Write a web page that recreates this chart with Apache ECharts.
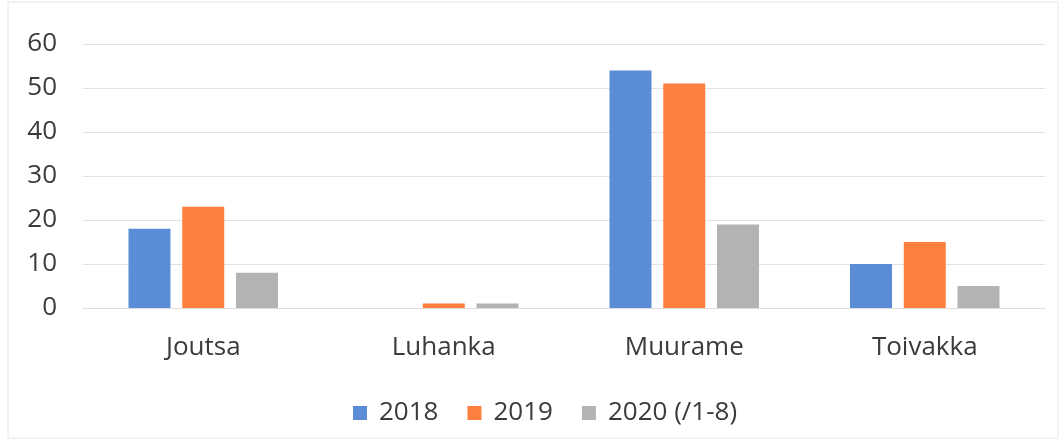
<!DOCTYPE html>
<html>
<head>
<meta charset="utf-8">
<script src="https://cdn.jsdelivr.net/npm/echarts@6/dist/echarts.min.js"></script>
<style>
  html, body { margin: 0; padding: 0; background: #ffffff; }
  #chart { width: 1063px; height: 442px; }
</style>
</head>
<body>
<div id="chart"></div>
<script>
// Municipalities and yearly counts
const categories = ['Joutsa', 'Luhanka', 'Muurame', 'Toivakka'];
const seriesNames = ['2018', '2019', '2020 (/1-8)'];
const values2018 = [18, 0, 54, 10];
const values2019 = [23, 1, 51, 15];
const values2020 = [8, 1, 19, 5];
const yTicks = [0, 10, 20, 30, 40, 50, 60];

const colors = ['#5b8dd6', '#fd7f3e', '#b5b2b2'];
const textColor = '#3b3b3b';
const fontFamily = '"Open Sans", sans-serif';

const chart = echarts.init(document.getElementById('chart'));
const seriesData = [values2018, values2019, values2020];

chart.setOption({
  animation: false,
  backgroundColor: '#ffffff',
  graphic: [{
    type: 'rect',
    shape: { x: 8, y: 2, width: 1050, height: 436 },
    style: { fill: 'none', stroke: '#e6e6e6', lineWidth: 1 },
    silent: true
  }],
  grid: { left: 83, right: 18, top: 44, bottom: 134 },
  legend: {
    data: seriesNames,
    top: 395,
    left: 348,
    itemWidth: 14,
    itemHeight: 14,
    itemGap: 29,
    icon: 'rect',
    textStyle: { color: textColor, fontSize: 26, fontFamily: fontFamily, padding: [0, 0, 0, 7] }
  },
  xAxis: {
    type: 'category',
    data: categories,
    axisLine: { show: true, lineStyle: { color: '#dcdcdc' } },
    axisTick: { show: false },
    axisLabel: { color: textColor, fontSize: 26, fontFamily: fontFamily, margin: 27 }
  },
  yAxis: {
    type: 'value',
    min: yTicks[0],
    max: yTicks[yTicks.length - 1],
    interval: 10,
    axisLine: { show: false },
    axisTick: { show: false },
    axisLabel: { color: textColor, fontSize: 26, fontFamily: fontFamily, margin: 26 },
    splitLine: { lineStyle: { color: '#e2e2e2', width: 1 } }
  },
  series: seriesNames.map((name, i) => ({
    name: name,
    type: 'bar',
    data: seriesData[i],
    barWidth: 42,
    barGap: '28%',
    itemStyle: { color: colors[i] }
  }))
});
</script>
</body>
</html>
